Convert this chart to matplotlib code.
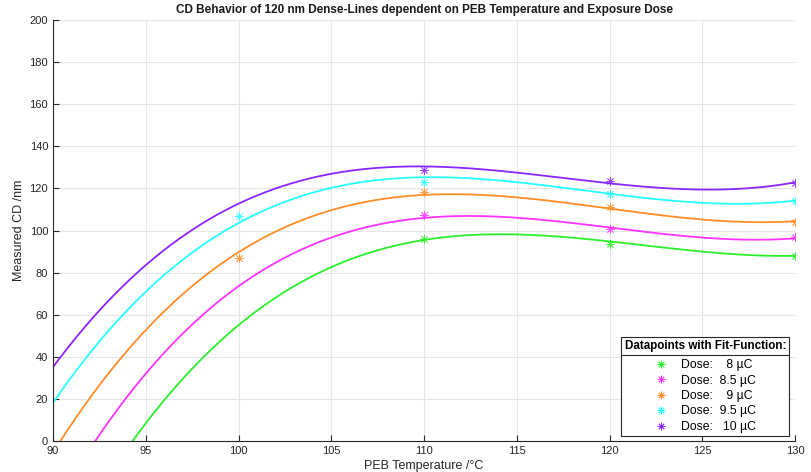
import numpy as np
import matplotlib
matplotlib.use("Agg")
import matplotlib.pyplot as plt
from matplotlib.lines import Line2D

plt.rcParams['font.family'] = ['Liberation Sans', 'DejaVu Sans']

doses = ['8', '8.5', '9', '9.5', '10']
labels = ['Dose:    8 µC', 'Dose:  8.5 µC', 'Dose:    9 µC', 'Dose:  9.5 µC', 'Dose:   10 µC']
colors = ['#2bef2b', '#ff33ff', '#ff8c26', '#26ffff', '#8c26ff']

# measured datapoints (temperature, CD)
pts_x = {
    '8':   [110, 120, 130],
    '8.5': [110, 120, 130],
    '9':   [100, 110, 120, 130],
    '9.5': [100, 110, 120, 130],
    '10':  [110, 120, 130],
}
pts_y = {
    '8':   [95.8, 93.6, 87.9],
    '8.5': [107.4, 100.5, 96.8],
    '9':   [87.1, 118.4, 111.3, 104.2],
    '9.5': [106.9, 123.2, 117.3, 114.2],
    '10':  [128.7, 123.7, 122.7],
}

# fit-function (first point = where it leaves the plot)
fit_x = {
    '8':   [94.27, 95, 100, 105, 110, 115, 120, 125, 130],
    '8.5': [92.26, 95, 100, 105, 110, 115, 120, 125, 130],
    '9':   [90.38, 95, 100, 105, 110, 115, 120, 125, 130],
    '9.5': [90, 95, 100, 105, 110, 115, 120, 125, 130],
    '10':  [90, 95, 100, 105, 110, 115, 120, 125, 130],
}
fit_y = {
    '8':   [0, 8.4, 54.3, 83.1, 95.8, 97.9, 94.7, 90, 88],
    '8.5': [0, 32.2, 72.5, 96.8, 106.6, 106.6, 101, 96, 96.7],
    '9':   [0, 51.9, 90.4, 109.7, 116.9, 115.3, 110.5, 105.5, 104.3],
    '9.5': [18.7, 69.4, 104.7, 120.3, 125.3, 122.7, 117.6, 113, 114.3],
    '10':  [35.3, 82.8, 113.7, 126.7, 130.3, 127.2, 122.7, 119.5, 122.8],
}

fig = plt.figure(figsize=(8.11, 4.72), dpi=100)
ax = fig.add_axes([0.0654, 0.0657, 0.9149, 0.8919])

xx = np.linspace(90, 130, 400)
handles = []
for d, lab, c in zip(doses, labels, colors):
    coef = np.polyfit(fit_x[d], fit_y[d], 3)
    ax.plot(xx, np.polyval(coef, xx), color=c, lw=1.3)
    ax.plot(pts_x[d], pts_y[d], linestyle='none', marker=(8, 2, 0),
            ms=6, mew=0.6, color=c, alpha=0.85)
    handles.append(Line2D([], [], linestyle='none', marker=(8, 2, 0),
                          ms=5.5, mew=0.6, color=c, label=lab))

ax.set_xlim(90, 130)
ax.set_ylim(0, 200)
ax.set_xticks(np.arange(90, 131, 5))
ax.set_yticks(np.arange(0, 201, 20))
ax.grid(True, color='#e6e6e6', lw=0.8)
ax.set_axisbelow(True)
for s in ['top', 'right']:
    ax.spines[s].set_visible(False)
for s in ['left', 'bottom']:
    ax.spines[s].set_color('#262626')
    ax.spines[s].set_linewidth(0.8)
ax.tick_params(direction='in', length=4, labelsize=8, colors='#262626',
               labelcolor='#262626')
ax.set_xlabel('PEB Temperature /°C', fontsize=9, color='#262626', labelpad=3)
ax.set_ylabel('Measured CD /nm', fontsize=9, color='#262626', labelpad=3)
ax.set_title('CD Behavior of 120 nm Dense-Lines dependent on PEB Temperature and Exposure Dose',
             fontsize=8.5, fontweight='bold', color='#1a1a1a', pad=5)

leg = ax.legend(handles=handles, loc='lower right', fontsize=8.8,
                title='Datapoints with Fit-Function:',
                title_fontproperties={'weight': 'bold', 'size': 8.4},
                frameon=True, fancybox=False, edgecolor='#262626', framealpha=1,
                handlelength=1.0, handletextpad=1.1, labelspacing=0.28,
                borderaxespad=0.0, borderpad=0.25,
                bbox_to_anchor=(0.9918, 0.012))
leg.get_frame().set_linewidth(0.8)
leg._legend_box.sep = 5

# separator line under the legend title
fig.canvas.draw()
r = fig.canvas.get_renderer()
fb = leg.get_frame().get_window_extent(r)
tb = leg.get_title().get_window_extent(r)
ysep = tb.y0 - 2.5
inv = fig.transFigure.inverted()
(x0, y0), (x1, y1) = inv.transform([(fb.x0, ysep), (fb.x1, ysep)])
fig.add_artist(Line2D([x0, x1], [y0, y1], color='#262626', lw=0.8))

fig.savefig('out.png', dpi=100)
